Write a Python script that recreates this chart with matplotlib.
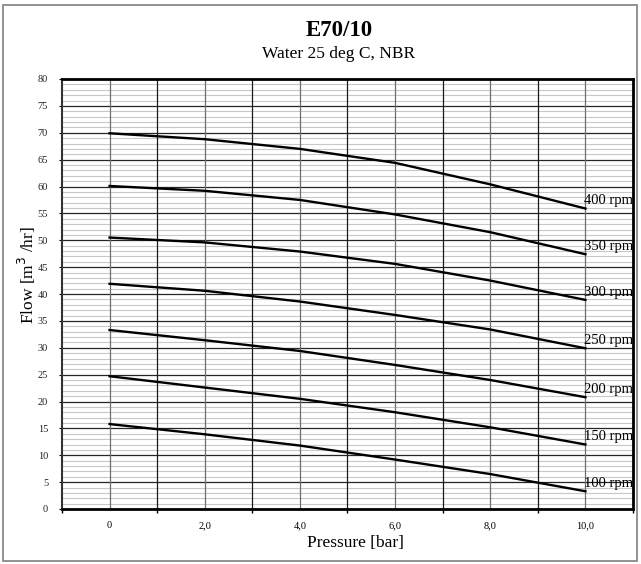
import matplotlib
matplotlib.use('Agg')
import matplotlib.pyplot as plt
from matplotlib.patches import Rectangle

plt.rcParams['font.family'] = ['Liberation Serif', 'DejaVu Serif']

# pump curve readings
pressure = [0, 2, 4, 6, 8, 10]
speeds = ['400 rpm', '350 rpm', '300 rpm', '250 rpm', '200 rpm', '150 rpm', '100 rpm']
flow_400 = [69.9, 68.8, 67.0, 64.4, 60.4, 55.9]
flow_350 = [60.1, 59.2, 57.5, 54.8, 51.5, 47.4]
flow_300 = [50.5, 49.6, 47.9, 45.6, 42.5, 38.9]
flow_250 = [41.9, 40.6, 38.6, 36.1, 33.4, 29.9]
flow_200 = [33.3, 31.4, 29.4, 26.8, 24.0, 20.8]
flow_150 = [24.7, 22.6, 20.5, 18.0, 15.2, 12.0]
flow_100 = [15.8, 13.9, 11.8, 9.2, 6.5, 3.3]
flows = [flow_400, flow_350, flow_300, flow_250, flow_200, flow_150, flow_100]

xtick_pos = [0, 2, 4, 6, 8, 10]
xtick_labels = ['0', '2,0', '4,0', '6,0', '8,0', '10,0']

W, H = 641, 564
fig = plt.figure(figsize=(W / 100, H / 100), dpi=100)

# grey frame round the whole chart
fig.patches.append(Rectangle((3 / W, 3 / H), 634 / W, 556 / H, transform=fig.transFigure,
                             fill=False, edgecolor='#808080', linewidth=1.2))

ax = fig.add_axes([62 / W, (H - 509) / H, (633 - 62) / W, (509 - 79) / H])
ax.set_xlim(-1, 11)
ax.set_ylim(0, 80)

# background grid
for v in range(1, 80):
    if v % 5 == 0:
        ax.axhline(v, color='#262626', lw=0.9, zorder=1)
    else:
        ax.axhline(v, color='#c8c8c8', lw=0.8, zorder=0)
for v in range(0, 11):
    ax.axvline(v, color='#6e6e6e' if v % 2 == 0 else '#1a1a1a', lw=0.9, zorder=1)

for name, fl in zip(speeds, flows):
    ax.plot(pressure, fl, color='black', lw=1.7, zorder=3)
    ax.text(pressure[-1] - 0.03, fl[-1] + 1.45, name, fontsize=10.5, ha='left', va='center',
            clip_on=True, zorder=4)

ax.set_xticks(range(-1, 12, 2))
ax.set_xticklabels([])
ax.set_xticks(xtick_pos, minor=True)
ax.set_xticklabels(xtick_labels, minor=True, fontsize=7.5)
ax.tick_params(axis='x', which='major', length=3, width=1, direction='out')
ax.tick_params(axis='x', which='minor', length=0, pad=9)
ax.set_yticks(range(0, 81, 5))
ax.tick_params(axis='y', length=2, width=0.8, pad=8, labelsize=7.5, labelcolor='#222222')

for s in ['top', 'bottom', 'right']:
    ax.spines[s].set_linewidth(2)
ax.spines['left'].set_linewidth(1.5)
ax.spines['left'].set_color('#333333')

fig.text(339 / W, 1 - 31 / H, 'E70/10', fontsize=16.5, fontweight='bold', ha='center', va='center')
fig.text(339 / W, 1 - 54 / H, 'Water 25 deg C, NBR', fontsize=12.5, ha='center', va='center')
fig.text(355 / W, 1 - 543 / H, 'Pressure [bar]', fontsize=12.5, ha='center', va='center')
fig.text(27 / W, 1 - 275 / H, 'Flow [m$^3$ /hr]', fontsize=12.5, rotation=90, ha='center', va='center')

fig.savefig('out.png', dpi=100)
